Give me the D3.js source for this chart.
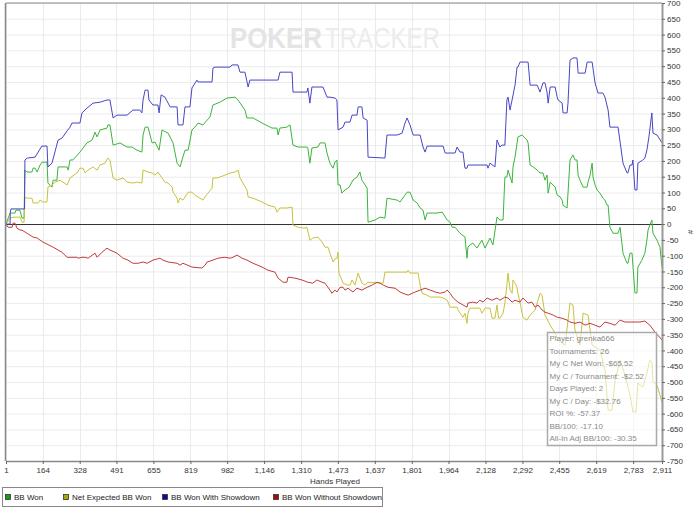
<!DOCTYPE html>
<html>
<head>
<meta charset="utf-8">
<script src="https://cdn.jsdelivr.net/npm/d3@7"></script>
<style>
body { margin: 0; background: #fff; }
svg text { font-family: "Liberation Sans", Arial, sans-serif; }
</style>
</head>
<body>
<svg id="chart" width="700" height="514"></svg>
<script>
// hands played ticks / BB ticks
var xTicks = [1, 164, 328, 491, 655, 819, 982, 1146, 1310, 1473, 1637, 1801, 1964, 2128, 2292, 2455, 2619, 2783, 2911];
var yTicks = [-750, -700, -650, -600, -550, -500, -450, -400, -350, -300, -250, -200, -150, -100, -50,
    0, 50, 100, 150, 200, 250, 300, 350, 400, 450, 500, 550, 600, 650, 700];

var seriesNames = ["BB Won", "Net Expected BB Won", "BB Won With Showdown", "BB Won Without Showdown"];

// [hand, bb]
var bbWon = [[1,0],[19,35],[41,35],[45,44],[63,44],[72,19],[81,19],[85,171],[94,165],[116,165],[121,177],[130,177],[139,165],[152,187],[161,196],[183,196],[187,130],[205,117],[210,139],[227,139],[232,181],[272,181],[277,171],[285,203],[298,203],[329,228],[360,257],[383,266],[396,291],[405,276],[418,298],[449,304],[453,314],[462,314],[476,250],[507,257],[538,244],[560,244],[582,234],[604,228],[609,282],[618,307],[631,307],[649,257],[662,260],[680,234],[693,298],[720,288],[742,257],[760,193],[773,181],[782,203],[795,234],[809,234],[826,298],[839,307],[853,320],[875,314],[893,329],[906,339],[919,377],[950,386],[981,399],[1017,402],[1030,393],[1061,361],[1070,336],[1097,336],[1137,320],[1181,304],[1203,304],[1208,282],[1216,304],[1247,307],[1261,314],[1274,250],[1296,244],[1336,244],[1340,241],[1349,193],[1358,241],[1385,244],[1394,257],[1416,257],[1425,225],[1438,193],[1452,177],[1460,196],[1469,203],[1474,124],[1483,124],[1491,98],[1505,108],[1523,117],[1540,139],[1558,149],[1571,165],[1580,139],[1594,124],[1603,114],[1607,6],[1638,13],[1660,22],[1682,19],[1691,82],[1736,76],[1749,70],[1771,92],[1780,101],[1793,101],[1807,76],[1825,67],[1838,51],[1851,44],[1860,13],[1869,35],[1913,35],[1936,38],[1958,13],[1971,6],[1980,-10],[1993,-10],[2015,-29],[2037,-41],[2046,-108],[2050,-73],[2059,-66],[2072,-60],[2090,-76],[2112,-51],[2126,-76],[2148,-44],[2161,-66],[2179,22],[2192,13],[2206,13],[2214,149],[2223,149],[2228,171],[2246,130],[2250,181],[2259,212],[2272,276],[2290,282],[2312,266],[2317,257],[2326,187],[2339,181],[2357,171],[2370,162],[2383,162],[2392,139],[2401,155],[2406,98],[2415,133],[2437,117],[2446,92],[2459,86],[2468,76],[2472,60],[2490,51],[2503,203],[2516,219],[2525,203],[2534,203],[2539,155],[2547,139],[2561,117],[2579,117],[2583,133],[2592,155],[2601,193],[2605,149],[2614,124],[2623,108],[2636,98],[2649,82],[2658,76],[2667,60],[2672,60],[2680,-10],[2694,-29],[2716,-29],[2725,-10],[2738,-92],[2756,-124],[2760,-124],[2769,-92],[2778,-92],[2791,-218],[2800,-218],[2804,-136],[2822,-114],[2835,-92],[2844,-51],[2849,-19],[2866,13],[2871,-29],[2889,-51],[2902,-73],[2911,-136]];

var netExpected = [[1,0],[19,19],[37,22],[63,22],[72,6],[81,6],[85,86],[94,82],[116,82],[121,67],[143,67],[152,76],[165,70],[183,70],[187,117],[205,124],[218,133],[241,139],[272,124],[285,146],[316,162],[329,177],[343,177],[352,162],[365,171],[387,181],[405,171],[418,187],[440,193],[453,209],[462,203],[476,146],[493,139],[520,146],[538,133],[564,130],[582,133],[604,130],[609,171],[631,165],[649,162],[662,155],[675,165],[693,146],[706,133],[720,130],[738,117],[742,101],[760,82],[764,67],[773,82],[786,76],[795,86],[809,101],[826,101],[839,92],[853,86],[875,76],[884,86],[897,98],[915,114],[919,146],[937,146],[950,149],[972,155],[995,162],[1017,165],[1030,171],[1039,146],[1052,130],[1070,108],[1075,86],[1097,82],[1137,70],[1163,60],[1194,54],[1203,38],[1216,51],[1247,51],[1270,54],[1274,-3],[1296,-10],[1327,-13],[1336,-10],[1349,-51],[1362,-44],[1385,-41],[1403,-57],[1416,-73],[1429,-73],[1438,-92],[1452,-120],[1460,-110],[1469,-108],[1474,-89],[1478,-155],[1496,-187],[1514,-193],[1527,-193],[1536,-177],[1549,-193],[1563,-155],[1580,-187],[1594,-193],[1607,-184],[1674,-187],[1682,-152],[1780,-152],[1785,-146],[1793,-155],[1829,-155],[1838,-193],[1847,-219],[1869,-225],[1883,-231],[1927,-231],[1940,-234],[1958,-241],[1971,-263],[2002,-263],[2006,-272],[2028,-295],[2037,-282],[2046,-314],[2050,-282],[2059,-266],[2103,-266],[2112,-282],[2126,-266],[2148,-266],[2157,-298],[2170,-298],[2179,-256],[2186,-298],[2192,-298],[2206,-282],[2214,-250],[2223,-193],[2228,-155],[2237,-209],[2246,-219],[2250,-177],[2259,-187],[2268,-200],[2272,-219],[2281,-247],[2294,-295],[2312,-304],[2326,-288],[2348,-272],[2370,-219],[2379,-225],[2392,-288],[2415,-320],[2437,-345],[2450,-367],[2481,-383],[2503,-250],[2516,-256],[2525,-336],[2547,-383],[2561,-282],[2583,-288],[2601,-383],[2636,-399],[2658,-462],[2672,-589],[2689,-589],[2703,-494],[2725,-431],[2747,-478],[2769,-541],[2782,-595],[2796,-595],[2804,-503],[2826,-516],[2844,-472],[2857,-431],[2866,-437],[2871,-500],[2889,-510],[2911,-564]];

var wonShowdown = [[1,0],[19,0],[20,38],[23,48],[83,48],[85,203],[95,209],[130,212],[160,247],[183,247],[187,181],[205,193],[232,266],[249,272],[272,295],[285,307],[294,320],[329,320],[338,352],[360,367],[387,383],[418,386],[449,393],[462,393],[476,336],[493,345],[538,345],[564,361],[595,361],[604,352],[609,393],[618,424],[631,424],[635,393],[653,377],[675,377],[680,352],[689,409],[706,402],[729,371],[760,371],[764,314],[786,314],[795,371],[817,371],[826,431],[848,456],[853,450],[915,450],[919,494],[928,497],[995,497],[1004,504],[1030,504],[1039,481],[1061,481],[1075,434],[1083,456],[1208,456],[1216,481],[1270,481],[1274,418],[1336,418],[1340,431],[1349,383],[1358,434],[1407,434],[1425,402],[1438,402],[1460,399],[1469,393],[1474,298],[1496,307],[1505,323],[1527,323],[1536,345],[1558,345],[1563,371],[1580,371],[1585,336],[1603,329],[1607,212],[1682,209],[1691,282],[1736,282],[1758,288],[1771,320],[1780,336],[1793,314],[1807,282],[1838,282],[1851,244],[1860,228],[1869,247],[1940,247],[1949,225],[1993,225],[2002,244],[2015,228],[2028,228],[2037,177],[2046,177],[2050,187],[2135,187],[2139,177],[2148,193],[2170,181],[2179,266],[2192,244],[2201,250],[2214,250],[2223,393],[2228,402],[2237,361],[2246,393],[2259,440],[2268,497],[2272,497],[2281,513],[2317,513],[2326,440],[2357,440],[2361,434],[2370,418],[2383,447],[2392,447],[2401,418],[2406,383],[2415,434],[2437,434],[2446,402],[2450,393],[2468,383],[2472,352],[2490,352],[2494,383],[2503,519],[2516,526],[2534,526],[2539,478],[2570,478],[2579,513],[2601,513],[2614,447],[2627,415],[2649,415],[2658,402],[2672,361],[2680,307],[2716,307],[2738,193],[2756,162],[2760,162],[2769,187],[2778,187],[2782,203],[2791,108],[2800,108],[2804,193],[2826,203],[2835,209],[2844,234],[2853,276],[2866,352],[2871,288],[2889,282],[2911,257]];

var wonNoShowdown = [[1,0],[10,-10],[28,-10],[32,3],[41,3],[50,-13],[63,-19],[72,-19],[94,-29],[121,-41],[139,-44],[165,-57],[210,-73],[249,-89],[272,-105],[316,-105],[321,-108],[338,-105],[352,-105],[365,-108],[396,-92],[405,-105],[427,-89],[449,-76],[462,-82],[493,-92],[520,-108],[542,-114],[564,-124],[587,-124],[609,-120],[627,-124],[653,-114],[684,-108],[697,-114],[720,-120],[760,-124],[773,-130],[786,-124],[826,-136],[870,-139],[884,-130],[893,-120],[919,-114],[941,-108],[972,-105],[995,-108],[1008,-105],[1026,-98],[1048,-108],[1070,-114],[1097,-124],[1137,-136],[1163,-146],[1194,-152],[1208,-171],[1230,-184],[1247,-184],[1252,-168],[1283,-171],[1314,-177],[1340,-184],[1362,-187],[1380,-177],[1403,-184],[1416,-187],[1438,-209],[1447,-219],[1460,-209],[1469,-215],[1483,-200],[1496,-200],[1505,-209],[1518,-203],[1540,-215],[1558,-203],[1580,-209],[1603,-200],[1625,-193],[1647,-184],[1660,-187],[1674,-193],[1696,-200],[1727,-203],[1749,-215],[1762,-219],[1785,-225],[1803,-219],[1816,-215],[1838,-209],[1860,-203],[1883,-209],[1905,-215],[1927,-219],[1949,-215],[1958,-209],[1971,-219],[1985,-234],[2006,-247],[2028,-256],[2046,-263],[2050,-250],[2072,-247],[2090,-250],[2103,-241],[2117,-247],[2135,-234],[2157,-241],[2179,-234],[2192,-241],[2214,-231],[2228,-234],[2246,-247],[2259,-241],[2281,-247],[2294,-234],[2317,-250],[2334,-247],[2348,-263],[2361,-256],[2379,-272],[2392,-279],[2406,-282],[2428,-288],[2446,-295],[2468,-298],[2490,-304],[2503,-310],[2525,-314],[2547,-310],[2570,-320],[2592,-314],[2614,-320],[2636,-326],[2658,-310],[2680,-314],[2703,-320],[2725,-304],[2747,-310],[2769,-310],[2791,-310],[2813,-310],[2835,-307],[2857,-320],[2880,-342],[2893,-352],[2911,-367]];

var statLines = ["Player: grenka666", "Tournaments: 26", "My C Net Won: -$65.52", "My C / Tournament: -$2.52",
    "Days Played: 2", "My C / Day: -$32.76", "ROI %: -57.37", "BB/100: -17.10", "All-In Adj BB/100: -30.35"];

var lineColors = ["#3cb43c", "#c8c23c", "#4646c8", "#c03c3c"];
var swatchColors = ["#10a010", "#a8a800", "#0a0aa0", "#a80a0a"];

var svg = d3.select("#chart");
var x = d3.scaleLinear().domain([1, 2911]).range([6, 662]);
var y = d3.scaleLinear().domain([-750, 700]).range([461, 3]);

// grid
svg.append("g").selectAll("line").data(yTicks).enter().append("line")
    .attr("x1", x(1)).attr("x2", x(2911))
    .attr("y1", function (d) { return y(d) + 0.5; })
    .attr("y2", function (d) { return y(d) + 0.5; })
    .attr("stroke", "#ebebeb");
svg.append("g").selectAll("line").data(xTicks).enter().append("line")
    .attr("x1", function (d) { return Math.round(x(d)) + 0.5; })
    .attr("x2", function (d) { return Math.round(x(d)) + 0.5; })
    .attr("y1", y(700)).attr("y2", y(-750))
    .attr("stroke", "#ebebeb");

// watermark
svg.append("text").attr("x", 230).attr("y", 48)
    .attr("textLength", 92).attr("lengthAdjust", "spacingAndGlyphs")
    .style("font-size", "29px").style("font-weight", "bold").attr("fill", "#e4e4e4")
    .text("POKER");
svg.append("text").attr("x", 325).attr("y", 48)
    .attr("textLength", 115).attr("lengthAdjust", "spacingAndGlyphs")
    .style("font-size", "29px").attr("fill", "#ececec")
    .text("TRACKER");

// zero line
svg.append("line")
    .attr("x1", x(1)).attr("x2", x(2911))
    .attr("y1", Math.round(y(0)) + 0.5).attr("y2", Math.round(y(0)) + 0.5)
    .attr("stroke", "#333").attr("stroke-width", 1);

var line = d3.line()
    .x(function (d) { return x(d[0]); })
    .y(function (d) { return y(d[1]); });

[bbWon, netExpected, wonShowdown, wonNoShowdown].forEach(function (s, i) {
    svg.append("path").datum(s)
        .attr("d", line)
        .attr("fill", "none")
        .attr("stroke", lineColors[i])
        .attr("stroke-width", 1);
});

// frame
svg.append("line").attr("x1", x(1)).attr("x2", x(2911)).attr("y1", y(700)).attr("y2", y(700))
    .attr("stroke", "#888");
svg.append("line").attr("x1", x(1) - 0.5).attr("x2", x(1) - 0.5).attr("y1", y(700)).attr("y2", y(-750))
    .attr("stroke", "#888").attr("stroke-width", 1.5);

var yAxis = svg.append("g")
    .attr("transform", "translate(" + x(2911) + ",0)")
    .call(d3.axisRight(y).tickValues(yTicks).tickSize(3).tickSizeOuter(0)
        .tickFormat(function (d) { return String(d).replace("\u2212", "-"); }));
yAxis.select(".domain").attr("stroke", "#999").attr("stroke-width", 2);
yAxis.selectAll(".tick line").attr("stroke", "#666");
yAxis.selectAll("text").attr("fill", "#333").style("font-size", "8px").attr("x", 5);

var xAxis = svg.append("g")
    .attr("transform", "translate(0," + y(-750) + ")")
    .call(d3.axisBottom(x).tickValues(xTicks).tickSize(3).tickSizeOuter(0).tickFormat(d3.format(",")));
xAxis.select(".domain").attr("stroke", "#888").attr("stroke-width", 1.5);
xAxis.selectAll(".tick line").attr("stroke", "#666");
xAxis.selectAll("text").attr("fill", "#333").style("font-size", "8px").attr("y", 6);

svg.append("text").attr("x", 335).attr("y", 484).attr("text-anchor", "middle")
    .style("font-size", "8px").attr("fill", "#333").text("Hands Played");
svg.append("text").attr("transform", "translate(688,232) rotate(90)").attr("text-anchor", "middle")
    .style("font-size", "8px").attr("fill", "#333").text("#");

// legend
var legend = svg.append("g");
legend.append("rect").attr("x", 2.5).attr("y", 487.5).attr("width", 380).attr("height", 19)
    .attr("fill", "#fff").attr("stroke", "#888");
var legendX = [5, 63, 162, 273];
var item = legend.selectAll(".item").data(seriesNames).enter().append("g")
    .attr("transform", function (d, i) { return "translate(" + legendX[i] + ",497)"; });
item.append("rect").attr("x", 0.5).attr("y", -2.5).attr("width", 5).attr("height", 5)
    .attr("fill", function (d, i) { return swatchColors[i]; }).attr("stroke", "#333").attr("stroke-width", 0.8);
item.append("text").attr("x", 9).attr("y", 3).style("font-size", "8px").attr("fill", "#222")
    .text(function (d) { return d; });

// stats box
var box = svg.append("g").attr("transform", "translate(547,332)");
box.append("rect").attr("x", 0.5).attr("y", 0.5).attr("width", 109).attr("height", 113)
    .attr("fill", "#fff").attr("fill-opacity", 0.55).attr("stroke", "#aaa").attr("stroke-width", 1.5);
box.selectAll("text").data(statLines).enter().append("text")
    .attr("x", 2.5).attr("y", function (d, i) { return 9 + i * 12.5; })
    .style("font-size", "8px").attr("fill", "#8a8a8a")
    .text(function (d) { return d; });
</script>
</body>
</html>
